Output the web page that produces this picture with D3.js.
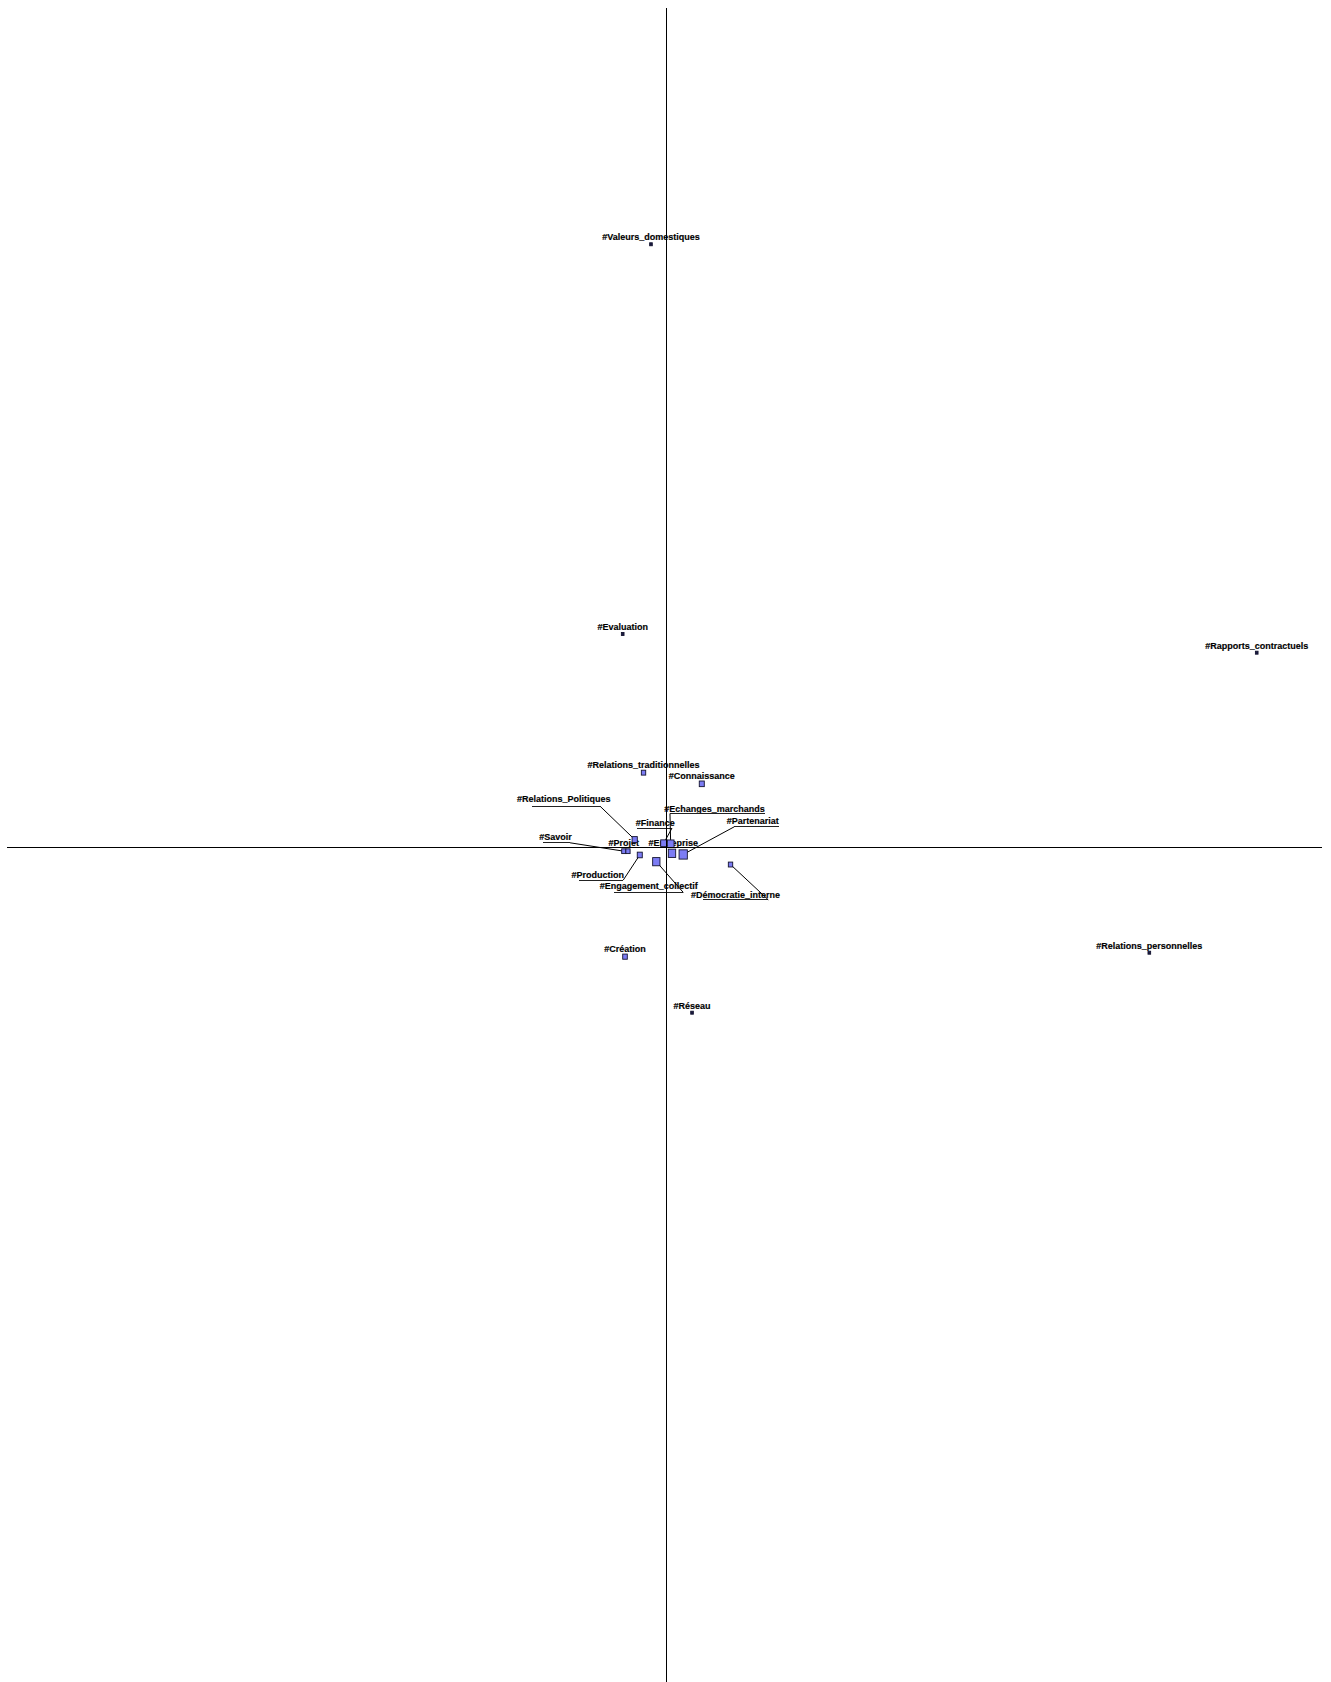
<!DOCTYPE html>
<html>
<head>
<meta charset="utf-8">
<script src="https://cdn.jsdelivr.net/npm/d3@7"></script>
<style>
  body { margin: 0; background: #fff; }
  svg { display: block; }
</style>
</head>
<body>
<script>
let width = 1331
let height = 1682

// categories and coordinates on the two factors
let labels = ["#Valeurs_domestiques", "#Evaluation", "#Rapports_contractuels", "#Relations_traditionnelles",
  "#Connaissance", "#Relations_Politiques", "#Savoir", "#Projet", "#Production", "#Engagement_collectif",
  "#Finance", "#Echanges_marchands", "#Entreprise", "#Partenariat", "#Démocratie_interne", "#Création",
  "#Réseau", "#Relations_personnelles"]
let facteur1 = [-0.0228, -0.0657, 0.8964, -0.0341, 0.0543, -0.0475, -0.0640, -0.0577, -0.0398, -0.0147,
  -0.0035, 0.0071, 0.0091, 0.0261, 0.0979, -0.0622, 0.0395, 0.7334]
let facteur2 = [0.7184, 0.2539, 0.2316, 0.0886, 0.0753, 0.0089, -0.0050, -0.0050, -0.0095, -0.0175,
  0.0045, 0.0039, -0.0075, -0.0089, -0.0209, -0.1307, -0.1975, -0.1260]
let poids = [7, 7, 7, 19, 25, 27, 18, 18, 25, 53, 36, 45, 54, 68, 19, 21, 7, 7]
let xExtent = [-1, 0.995]
let yExtent = [-1, 1]

// label placement (pixels): text centre offset from the point, underline span, leader side
let placement = {
  "#Relations_Politiques": { dx: -70.9, dy: -38.8, u: [-32.1, 36.2], uy: 4.6, side: "r" },
  "#Savoir": { dx: -68.3, dy: -11.7, u: [-12.2, 14.5], uy: 2.5, side: "r" },
  "#Production": { dx: -42.1, dy: 22.3, u: [-18.7, 25.6], uy: 2, side: "r" },
  "#Engagement_collectif": { dx: -7.6, dy: 27, u: [-34.4, 34.6], uy: 3, side: "r" },
  "#Démocratie_interne": { dx: 4.9, dy: 32.2, u: [-32.1, 32.9], uy: 2.3, side: "r" },
  "#Partenariat": { dx: 69.5, dy: -31.2, u: [-18.4, 26], uy: 2.7, side: "l" },
  "#Echanges_marchands": { dx: 43.8, dy: -33, u: [-44.5, 50.5], uy: 2, side: "l" },
  "#Finance": { dx: -8.5, dy: -18.2, u: [-18.5, 16.8], uy: 2.3, side: "r" },
  "#Projet": { dx: -4.3, dy: -5.9 },
  "#Entreprise": { dx: 1.3, dy: -8 }
}

let x = d3.scaleLinear().domain([-1, 1]).range([7, 1325])
let y = d3.scaleLinear().domain([-1, 1]).range([1686, 8])
let size = d3.scaleSqrt().domain([0, 70]).range([0, 8.4])

let data = labels.map((name, i) => {
  let w = size(poids[i])
  let h = w * 1.12
  let cx = x(facteur1[i]), cy = y(facteur2[i])
  let p = placement[name] || { dx: 0, dy: -(h / 2 + 3.2) }
  return { name: name, cx: cx, cy: cy, w: w, h: h, p: p }
})

let svg = d3.select("body").append("svg")
  .attr("width", width)
  .attr("height", height)

let gText = svg.append("g")
let gLines = svg.append("g")
let gPoints = svg.append("g")
let gAxes = svg.append("g")

gText.selectAll("text").data(data).enter().append("text")
  .attr("x", d => d.cx + d.p.dx)
  .attr("y", d => d.cy + d.p.dy + 0.8)
  .attr("text-anchor", "middle")
  .style("font-family", "Arial, 'Liberation Sans', sans-serif")
  .style("font-weight", "bold")
  .style("font-size", "9px")
  .attr("fill", "#000")
  .attr("stroke", "#000")
  .attr("stroke-width", 0.15)
  .text(d => d.name)

let leaders = data.filter(d => d.p.u)

gLines.selectAll(".underline").data(leaders).enter().append("line")
  .attr("class", "underline")
  .attr("x1", d => d.cx + d.p.dx + d.p.u[0])
  .attr("x2", d => d.cx + d.p.dx + d.p.u[1])
  .attr("y1", d => d.cy + d.p.dy + d.p.uy + 0.8)
  .attr("y2", d => d.cy + d.p.dy + d.p.uy + 0.8)
  .attr("stroke", "#222")
  .attr("stroke-width", 1)
  .attr("shape-rendering", "crispEdges")

gLines.selectAll(".leader").data(leaders).enter().append("line")
  .attr("class", "leader")
  .attr("x1", d => d.cx + d.p.dx + (d.p.side === "r" ? d.p.u[1] : d.p.u[0]))
  .attr("y1", d => d.cy + d.p.dy + d.p.uy + 0.8)
  .attr("x2", d => d.cx)
  .attr("y2", d => d.cy)
  .attr("stroke", "#000")
  .attr("stroke-width", 1)

gPoints.selectAll("rect").data(data).enter().append("rect")
  .attr("x", d => d.cx - d.w / 2)
  .attr("y", d => d.cy - d.h / 2)
  .attr("width", d => d.w)
  .attr("height", d => d.h)
  .attr("fill", d => d.w < 3 ? "#1a1a40" : "#7c7cf4")
  .attr("stroke", "#141430")
  .attr("stroke-width", 0.9)

// factor axes
gAxes.append("line")
  .attr("x1", x(xExtent[0])).attr("x2", x(xExtent[1]))
  .attr("y1", Math.round(y(0)) + 0.5).attr("y2", Math.round(y(0)) + 0.5)
  .attr("stroke", "#000").attr("stroke-width", 1)
  .attr("shape-rendering", "crispEdges")
gAxes.append("line")
  .attr("x1", Math.round(x(0)) + 0.5).attr("x2", Math.round(x(0)) + 0.5)
  .attr("y1", y(yExtent[1])).attr("y2", y(yExtent[0]))
  .attr("stroke", "#000").attr("stroke-width", 1)
  .attr("shape-rendering", "crispEdges")
</script>
</body>
</html>
